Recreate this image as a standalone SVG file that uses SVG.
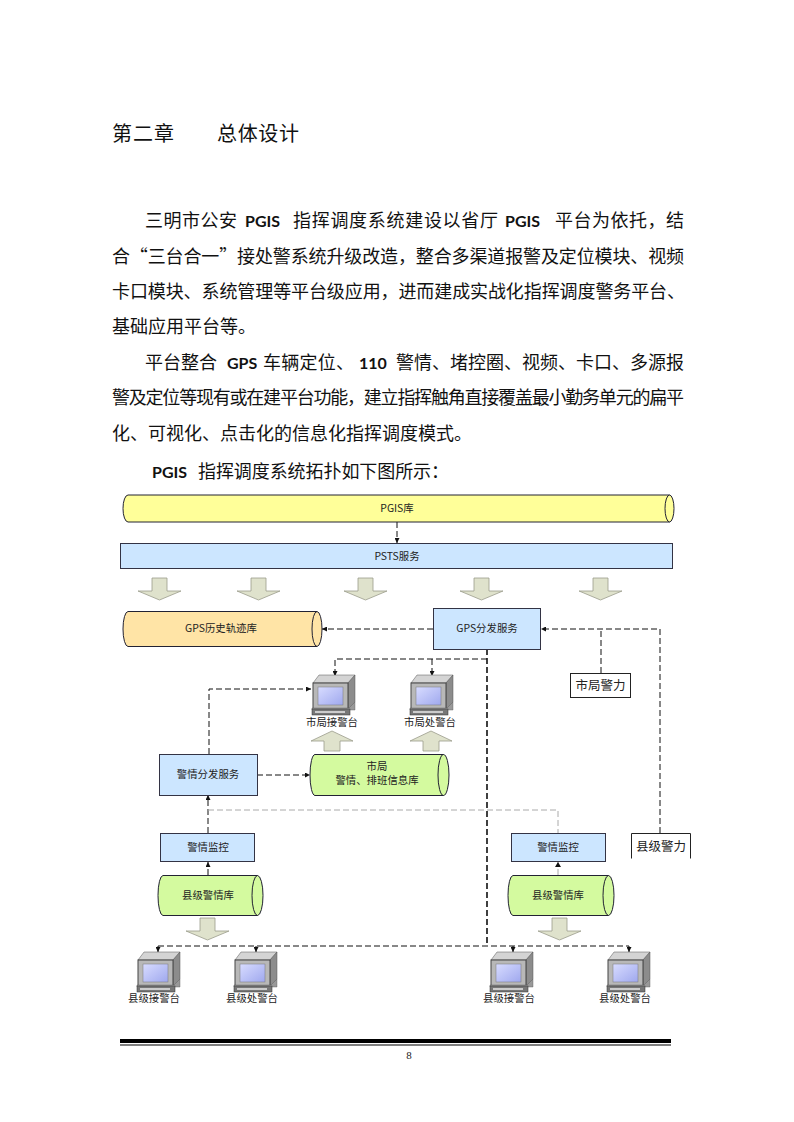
<svg xmlns="http://www.w3.org/2000/svg" width="794" height="1122" viewBox="0 0 794 1122">
<style>
.b{font-family:"Noto Sans CJK SC","Liberation Sans",sans-serif;font-size:18px;fill:#111}
.l{font-family:Lato,"Noto Sans",sans-serif;font-size:16px;font-weight:700;fill:#111}
.t{font-family:"Noto Sans CJK SC","Liberation Sans",sans-serif;font-size:20px;fill:#111}
.n{font-family:"Noto Sans CJK SC","Liberation Sans",sans-serif;font-size:10.400px;fill:#222;text-anchor:middle}
.f{font-family:"Noto Sans CJK SC","Liberation Sans",sans-serif;font-size:12.500px;fill:#222;text-anchor:middle}
.box{stroke:#334;stroke-width:1}
.blue{fill:#cce6ff}
.yel{fill:#ffff99}
.pe{fill:#ffe4a6}
.gr{fill:#d4fa9f}
.cyl{stroke:#223;stroke-width:1}
.ar{fill:#dfe2cc;stroke:#9a9c8c;stroke-width:.8}
.d{fill:none;stroke:#111;stroke-width:1;stroke-dasharray:6 3}
.dk{fill:none;stroke:#111;stroke-width:1.600;stroke-dasharray:6 3}
.dg{fill:none;stroke:#aaa;stroke-width:1;stroke-dasharray:6 3}
</style>
<defs>
<marker id="m" viewBox="0 0 6 6" refX="6" refY="3" markerWidth="5" markerHeight="5" markerUnits="userSpaceOnUse" orient="auto"><path d="M0 0L6 3L0 6Z" fill="#111"/></marker>
<linearGradient id="sc" x1="0" y1="0" x2="1" y2="1"><stop offset="0" stop-color="#d8dcff"/><stop offset="1" stop-color="#9fa8ee"/></linearGradient>
<g id="pc">
<path d="M1 9L7 1H43L36 9Z" fill="#d4d4d4" stroke="#555" stroke-width=".5"/>
<path d="M36 9L43 1V28L36 35Z" fill="#8c8c8c" stroke="#555" stroke-width=".5"/>
<rect x="1" y="9" width="35" height="26" fill="#b8b8b8" stroke="#444"/>
<rect x="6" y="13" width="25" height="18" fill="url(#sc)" stroke="#777" stroke-width=".5"/>
<path d="M0 34H37L43 28V36H0Z" fill="#999" stroke="#555" stroke-width=".4"/>
<rect x="0" y="35" width="38" height="6" fill="#777" stroke="#333" stroke-width=".5"/>
<rect x="3" y="37" width="30" height="2" fill="#ccc"/>
</g>
<path id="dn" d="M14 0H29V13H43L21.500 22L0 13H14Z"/>
<path id="up" d="M13 20H29V10H42L21 0L0 10H13Z"/>
</defs>

<g id="text-body">
<text class="t" x="112" y="141" textLength="62">第二章</text>
<text class="t" x="217" y="141" textLength="82">总体设计</text>
<text class="b" x="145" y="227" textLength="92">三明市公安</text>
<text class="l" x="245" y="227">PGIS</text>
<text class="b" x="293" y="227" textLength="205">指挥调度系统建设以省厅</text>
<text class="l" x="505" y="227">PGIS</text>
<text class="b" x="555" y="227" textLength="129">平台为依托，结</text>
<text class="b" x="112" y="263" textLength="572">合“三台合一”接处警系统升级改造，整合多渠道报警及定位模块、视频</text>
<text class="b" x="112" y="298" textLength="573">卡口模块、系统管理等平台级应用，进而建成实战化指挥调度警务平台、</text>
<text class="b" x="112" y="333">基础应用平台等。</text>
<text class="b" x="145" y="369" textLength="72">平台整合</text>
<text class="l" x="227" y="369">GPS</text>
<text class="b" x="263" y="369" textLength="91">车辆定位、</text>
<text class="l" x="359" y="369">110</text>
<text class="b" x="396" y="369" textLength="288">警情、堵控圈、视频、卡口、多源报</text>
<text class="b" x="112" y="404" textLength="572">警及定位等现有或在建平台功能，建立指挥触角直接覆盖最小勤务单元的扁平</text>
<text class="b" x="112" y="440">化、可视化、点击化的信息化指挥调度模式。</text>
<text class="l" x="152" y="478">PGIS</text>
<text class="b" x="198" y="478" textLength="251">指挥调度系统拓扑如下图所示：</text>
</g>

<g id="connectors">
<path class="d" d="M397 522V543" marker-end="url(#m)"/>
<path class="d" d="M433 629H322" marker-end="url(#m)"/>
<path class="d" d="M660 833V629H541" marker-end="url(#m)"/>
<path class="d" d="M601 673V629"/>
<path class="dk" d="M487 649V946"/>
<path class="d" d="M487 659H335V676" marker-end="url(#m)"/>
<path class="d" d="M432 659V676" marker-end="url(#m)"/>
<path class="d" d="M209 754V689H311" marker-end="url(#m)"/>
<path class="d" d="M257 775H310" marker-end="url(#m)"/>
<path class="d" d="M208 833V795" marker-end="url(#m)"/>
<path class="dg" d="M208 810H558V833"/>
<path class="d" d="M208 875V862" marker-end="url(#m)"/>
<path class="dg" d="M558 875V862"/>
<path d="M555 867L558 862L561 867Z" fill="#111"/>
<path class="d" d="M158 946H629"/>
<path class="d" d="M158 946V952" marker-end="url(#m)"/>
<path class="d" d="M256 946V952" marker-end="url(#m)"/>
<path class="d" d="M513 946V952" marker-end="url(#m)"/>
<path class="d" d="M629 946V952" marker-end="url(#m)"/>
</g>

<g id="flow-arrows" class="ar">
<use href="#dn" x="138" y="578"/>
<use href="#dn" x="237" y="578"/>
<use href="#dn" x="344" y="578"/>
<use href="#dn" x="460" y="578"/>
<use href="#dn" x="579" y="578"/>
<use href="#up" x="311" y="731"/>
<use href="#up" x="410" y="731"/>
<use href="#dn" x="186" y="918"/>
<use href="#dn" x="538" y="918"/>
</g>

<g id="pgis">
<path class="cyl yel" d="M128 495H669.500A4.500 13.500 0 0 1 669.500 522H128A5 13.500 0 0 1 128 495Z"/>
<path class="cyl" fill="none" d="M669.500 495A4.500 13.500 0 0 0 669.500 522"/>
<text class="n" x="397" y="512">PGIS库</text>
</g>
<g id="psts">
<rect class="box blue" x="120.500" y="543.500" width="552" height="25"/>
<text class="n" x="397" y="560">PSTS服务</text>
</g>
<g id="gps-history">
<path class="cyl pe" d="M128 611.500H317A5 17.500 0 0 1 317 646.500H128A5 17.500 0 0 1 128 611.500Z"/>
<path class="cyl" fill="none" d="M317 611.500A5 17.500 0 0 0 317 646.500"/>
<text class="n" x="221" y="632">GPS历史轨迹库</text>
</g>
<g id="gps-dispatch">
<rect class="box blue" x="433.500" y="608.500" width="107" height="41"/>
<text class="n" x="487" y="632">GPS分发服务</text>
</g>
<g id="city-force">
<rect x="570.500" y="673.500" width="60" height="24" fill="#fff" stroke="#222"/>
<text class="f" x="600.500" y="690">市局警力</text>
</g>
<g id="city-receive">
<use href="#pc" x="312" y="674"/>
<text class="n" x="332" y="726">市局接警台</text>
</g>
<g id="city-dispatch">
<use href="#pc" x="410" y="674"/>
<text class="n" x="430" y="726">市局处警台</text>
</g>
<g id="alarm-dispatch">
<rect class="box blue" x="159.500" y="754.500" width="98" height="41"/>
<text class="n" x="208" y="778">警情分发服务</text>
</g>
<g id="city-db">
<path class="cyl gr" d="M315 754.500H443.500A5.500 20.500 0 0 1 443.500 795.500H315A5 20.500 0 0 1 315 754.500Z"/>
<path class="cyl" fill="none" d="M443.500 754.500A5.500 20.500 0 0 0 443.500 795.500"/>
<text class="n" x="377" y="770">市局</text>
<text class="n" x="377" y="784">警情、排班信息库</text>
</g>
<g id="monitor-left">
<rect class="box blue" x="160.500" y="833.500" width="94" height="28"/>
<text class="n" x="208" y="851">警情监控</text>
</g>
<g id="monitor-right">
<rect class="box blue" x="511.500" y="833.500" width="94" height="28"/>
<text class="n" x="558" y="851">警情监控</text>
</g>
<g id="county-force">
<path d="M631.500 858.500V833.500H690.500V858.500" fill="#fff" stroke="#222"/>
<text class="f" x="661" y="851">县级警力</text>
</g>
<g id="county-db-left">
<path class="cyl gr" d="M163 875.500H257.500A5.500 20 0 0 1 257.500 915.500H163A5 20 0 0 1 163 875.500Z"/>
<path class="cyl" fill="none" d="M257.500 875.500A5.500 20 0 0 0 257.500 915.500"/>
<text class="n" x="208" y="899">县级警情库</text>
</g>
<g id="county-db-right">
<path class="cyl gr" d="M513 875.500H608.500A5.500 20 0 0 1 608.500 915.500H513A5 20 0 0 1 513 875.500Z"/>
<path class="cyl" fill="none" d="M608.500 875.500A5.500 20 0 0 0 608.500 915.500"/>
<text class="n" x="558" y="899">县级警情库</text>
</g>
<g id="county-1">
<use href="#pc" x="137" y="951"/>
<text class="n" x="154" y="1002">县级接警台</text>
</g>
<g id="county-2">
<use href="#pc" x="234" y="951"/>
<text class="n" x="252" y="1002">县级处警台</text>
</g>
<g id="county-3">
<use href="#pc" x="490" y="951"/>
<text class="n" x="509" y="1002">县级接警台</text>
</g>
<g id="county-4">
<use href="#pc" x="607" y="951"/>
<text class="n" x="625" y="1002">县级处警台</text>
</g>

<g id="footer">
<rect x="120" y="1039" width="551" height="4" fill="#000"/>
<rect x="120" y="1044.500" width="551" height="1" fill="#000"/>
<text x="409" y="1059" font-family="Liberation Serif,serif" font-size="11" text-anchor="middle" fill="#222">8</text>
</g>
</svg>
